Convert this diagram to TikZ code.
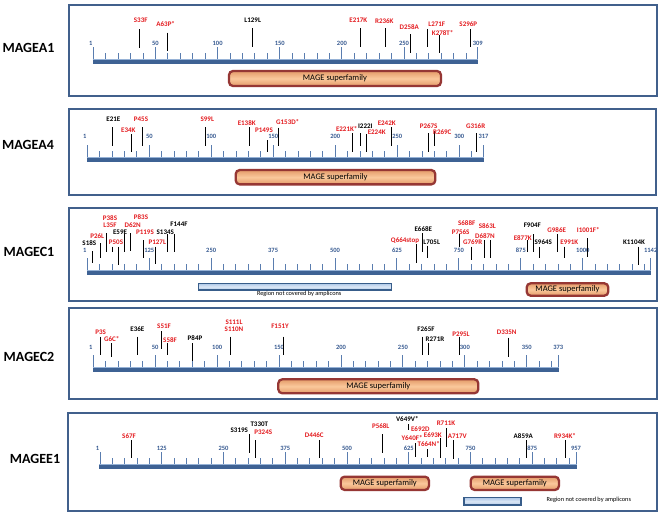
\documentclass[tikz,border=0pt]{standalone}
\usepackage{fontspec}
\setmainfont{Carlito}
\definecolor{mred}{RGB}{228,28,32}
\definecolor{frameblue}{RGB}{65,96,140}
\definecolor{tickblue}{RGB}{90,125,175}
\definecolor{numblue}{RGB}{55,90,145}
\definecolor{barblue}{RGB}{62,98,148}
\definecolor{barlight}{RGB}{150,178,214}
\definecolor{mageborder}{RGB}{150,55,52}
\definecolor{magefill}{RGB}{250,200,155}
\definecolor{magedark}{RGB}{228,155,105}
\definecolor{regfill}{RGB}{175,200,232}
\definecolor{regborder}{RGB}{56,93,138}
\tikzset{
 panel/.style={draw=frameblue, line width=2.5pt, fill=white},
 title/.style={font=\fontsize{14}{14}\selectfont\bfseries, text=black, inner sep=0pt},
 mlab/.style={font=\fontsize{7}{7}\selectfont\bfseries, inner sep=0pt},
 mline/.style={line width=0.95pt, draw=black},
 num/.style={font=\fontsize{6.5}{6.5}\selectfont\bfseries, text=numblue, inner sep=0pt},
 tick/.style={draw=tickblue, line width=1pt},
 magebox/.style={draw=mageborder, line width=2.3pt, rounded corners=4pt, top color=magedark, bottom color=magedark, middle color=magefill, font=\fontsize{8.5}{8.5}\selectfont, text=black, inner sep=0pt},
 regbox/.style={draw=regborder, line width=1.5pt, top color=regfill, bottom color=regfill, middle color=regfill!45!white, inner sep=0pt},
 regtext/.style={font=\fontsize{6.3}{6.3}\selectfont, text=black, inner sep=0pt},
}
\newcommand\myaxis[9]{%
 \fill[barblue] ({#2-0.6},#4) rectangle ({#8+0.6},{#4+5});
 \draw[barlight,line width=0.8pt] ({#2-0.6},{#4+0.4}) -- ({#8+0.6},{#4+0.4});
 \foreach \v in {#5} \draw[tick] ({#2+\v*#3},#4) -- ++(0,-5.7);
 \foreach \v in {#6} {\draw[tick] ({#2+\v*#3},#4) -- ++(0,-12.3); \node[num] (#1n\v) at ({#2+\v*#3},#7) {\v};}
 \draw[tick] (#2,#4) -- ++(0,-12.3); \node[num] (#1n1) at ({#2-2.6},#7) {1};
 \draw[tick] (#8,#4) -- ++(0,-12.3); \node[num] (#1nend) at (#8,#7) {#9};
}
\newcommand\mut[8]{\draw[mline] (#6,#7) -- (#6,#8); \node[mlab,text=#2] (#1) at (#3,#4) {#5};}
\newcommand\mlabel[5]{\node[mlab,text=#2] (#1) at (#3,#4) {#5};}
\newcommand\mstem[3]{\draw[mline] (#1,#2) -- (#1,#3);}
\begin{document}
\begin{tikzpicture}[x=1pt,y=-1pt]
\useasboundingbox[fill=white] (0,0) rectangle (661,515);
% ---------------- MAGEA1
\draw[panel] (69,5) rectangle (657,96);
\node[title] (t1) at (28.5,47.5) {MAGEA1};
\myaxis{a}{93.3}{1.243}{59}{10,20,...,300}{50,100,150,200,250}{43.3}{477.7}{309}
\node[magebox, minimum width=212pt, minimum height=15pt] (m1) at (335,78.5) {MAGE superfamily};
\mut{s33f}{mred}{140.7}{20.7}{S33F}{139}{29}{47.7}
\mut{a63p}{mred}{165.7}{24.3}{A63P*}{167.3}{32.7}{51}
\mut{l129l}{black}{252.7}{20}{L129L}{252.7}{28.3}{47.3}
\mut{e217k}{mred}{358.3}{20.7}{E217K}{360}{28.3}{47.3}
\mut{r236k}{mred}{384.3}{20.7}{R236K}{385}{28.3}{47.3}
\mut{d258a}{mred}{409.3}{27.3}{D258A}{410}{34.3}{53.3}
\mut{l271f}{mred}{436.7}{24.3}{L271F}{427.7}{29}{47}
\mut{k278t}{mred}{442.7}{32.7}{K278T*}{439}{35}{52.7}
\mut{s296p}{mred}{468.3}{24.3}{S296P}{470.7}{29}{47.3}
% ---------------- MAGEA4
\draw[panel] (69,109) rectangle (656,195);
\node[title] (t2) at (28,145.3) {MAGEA4};
\myaxis{b}{87.3}{1.24}{157}{10,20,...,310}{50,100,150,200,250,300}{136}{483.5}{317}
\node[magebox, minimum width=199.6pt, minimum height=14.3pt] (m2) at (335.5,177.2) {MAGE superfamily};
\mut{e21e}{black}{113.3}{119.3}{E21E}{112.3}{127.3}{145.7}
\mut{e34k}{mred}{128.3}{130}{E34K}{131}{134}{152.3}
\mut{p45s}{mred}{141}{119.3}{P45S}{142.3}{127.3}{145.7}
\mut{s99l}{mred}{207.3}{119.3}{S99L}{205.7}{127.3}{145.7}
\mut{e138k}{mred}{246.7}{123.3}{E138K}{249}{127.3}{145.7}
\mut{p149s}{mred}{264}{130}{P149S}{267.3}{140}{151.7}
\mut{g153d}{mred}{287.7}{122.3}{G153D*}{278.3}{127.7}{145.7}
\mut{e221k}{mred}{346.7}{129.3}{E221K*}{352.7}{133.3}{151.7}
\mut{i222i}{black}{365.3}{125.7}{I222I}{360}{133.3}{145.7}
\mut{e224k}{mred}{376.7}{132.3}{E224K}{366}{134.3}{151.7}
\mut{e242k}{mred}{386.7}{123.3}{E242K}{391}{127.3}{145.7}
\mut{p267s}{mred}{428.7}{125.7}{P267S}{428}{133.3}{151.7}
\mut{r269c}{mred}{442.3}{132.3}{R269C}{434}{131}{145.7}
\mut{g316r}{mred}{475.7}{125.7}{G316R}{476.7}{133.3}{151.7}
% ---------------- MAGEC1
\draw[panel] (69,208) rectangle (657,301);
\node[title] (t3) at (29,252) {MAGEC1};
\myaxis{c}{87.3}{0.4955}{270}{25,50,...,1125}{125,250,375,500,625,750,875,1000}{250.7}{650.7}{1142}
\node[regbox, minimum width=193.4pt, minimum height=6.7pt] (r3) at (295,286.7) {};
\node[regtext] (r3t) at (299.2,293.6) {Region not covered by amplicons};
\node[magebox, minimum width=81.6pt, minimum height=12.4pt] (m3) at (567.5,289.5) {MAGE superfamily};
\mut{s18s}{black}{89.3}{243.3}{S18S}{92.7}{251}{263.3}
\mut{p26l}{mred}{97.3}{236}{P26L}{100}{243.3}{258.3}
\mlabel{p38s}{mred}{110}{217.7}{P38S}
\mut{l35f}{mred}{110}{225.7}{L35F}{106}{233.3}{252.3}
\mstem{112.7}{246.7}{252.3}
\mut{e59e}{black}{120}{232.3}{E59E}{124}{234.3}{251.7}
\mut{p50s}{mred}{116}{242.3}{P50S}{118.3}{246.7}{265}
\mlabel{p83s}{mred}{141}{216.7}{P83S}
\mut{d62n}{mred}{132.7}{225}{D62N}{130.7}{233.3}{251}
\mut{p119s}{mred}{145}{232.3}{P119S}{143.3}{240}{258.3}
\mut{p127l}{mred}{157.3}{241.7}{P127L}{155.7}{246.7}{264.3}
\mut{s134s}{black}{165.3}{232.3}{S134S}{167.7}{234.3}{252.3}
\mut{f144f}{black}{179}{224.3}{F144F}{174.3}{234.3}{252.3}
\mut{q664}{mred}{405}{241}{Q664stop}{416}{244.3}{263.3}
\mut{e668e}{black}{423.3}{229}{E668E}{422}{233.3}{252.3}
\mut{l705l}{black}{431.7}{242.3}{L705L}{427.7}{245.7}{258.3}
\mlabel{s688f}{mred}{466.7}{223.3}{S688F}
\mut{p756s}{mred}{460.7}{232.3}{P756S}{459}{234.3}{246.7}
\mlabel{s863l}{mred}{487.3}{225.7}{S863L}
\mut{d687n}{mred}{485}{236}{D687N}{484}{240}{258.3}
\mstem{490}{240}{258.3}
\mut{g769r}{mred}{472.7}{241.7}{G769R}{471.7}{246.7}{260}
\mut{f904f}{black}{532.3}{225.7}{F904F}{533.3}{234.3}{252.3}
\mut{e877k}{mred}{522.7}{238.3}{E877K}{527.3}{240}{252.3}
\mut{s964s}{black}{543.3}{242.3}{S964S}{539.3}{246.7}{258.3}
\mut{g986e}{mred}{556.7}{230}{G986E}{557.7}{234.3}{252.3}
\mut{e991k}{mred}{569.3}{242.3}{E991K}{564.3}{246.7}{258.3}
\mut{i1001f}{mred}{588.3}{230}{I1001F*}{587.7}{238.3}{257.3}
\mut{k1104k}{black}{634}{242.3}{K1104K}{638.3}{246.7}{265}
% ---------------- MAGEC2
\draw[panel] (69,308) rectangle (657,399);
\node[title] (t4) at (29,357) {MAGEC2};
\myaxis{d}{93.3}{1.2385}{367}{10,20,...,370}{50,100,150,200,250,300,350}{347.7}{558.3}{373}
\node[magebox, minimum width=200pt, minimum height=14pt] (m4) at (378.3,386.3) {MAGE superfamily};
\mut{p3s}{mred}{100.7}{332.7}{P3S}{100.7}{336.7}{355}
\mut{g6c}{mred}{111.7}{339.3}{G6C*}{111.7}{343.3}{356.7}
\mut{e36e}{black}{137.3}{329}{E36E}{137.3}{336.7}{355}
\mut{s51f}{mred}{164}{326.7}{S51F}{161.7}{331}{349}
\mut{s58f}{mred}{170}{340}{S58F}{167.7}{343.3}{355}
\mut{p84p}{black}{195}{338.3}{P84P}{192.7}{343.3}{361}
\mlabel{s111l}{mred}{234}{322.3}{S111L}
\mut{s110n}{mred}{234}{329}{S110N}{230}{336.7}{355}
\mut{f151y}{mred}{280}{326.7}{F151Y}{283.3}{336.7}{355}
\mut{f265f}{black}{426}{329}{F265F}{422}{336.7}{355}
\mut{r271r}{black}{435}{339}{R271R}{428}{343.3}{355}
\mut{p295l}{mred}{461}{334.3}{P295L}{459}{336.7}{355}
\mut{d335n}{mred}{506.7}{332.3}{D335N}{508.3}{337.7}{356.7}
% ---------------- MAGEE1
\draw[panel] (68,413) rectangle (657,511);
\node[title] (t5) at (35,458.7) {MAGEE1};
\myaxis{e}{100}{0.494}{464}{25,50,...,950}{125,250,375,500,625,750,875}{448.3}{576}{957}
\node[magebox, minimum width=88.3pt, minimum height=13.3pt] (m5a) at (384.8,483.3) {MAGE superfamily};
\node[magebox, minimum width=88.3pt, minimum height=13.3pt] (m5b) at (514.8,483.3) {MAGE superfamily};
\node[regbox, minimum width=57pt, minimum height=7.3pt] (r5) at (492.5,501.3) {};
\node[regtext] (r5t) at (588.8,499.5) {Region not covered by amplicons};
\mut{s67f}{mred}{129}{436}{S67F}{131}{440}{458.3}
\mlabel{t330t}{black}{259.3}{424}{T330T}
\mut{s319s}{black}{239.3}{430.7}{S319S}{249}{434}{452.7}
\mut{p324s}{mred}{263.3}{432.7}{P324S}{255}{440}{458.3}
\mut{d446c}{mred}{314.3}{435}{D446C}{319.3}{440}{458.3}
\mut{p568l}{mred}{380.7}{426}{P568L}{382.7}{434}{452.7}
\mut{v649v}{black}{407.3}{419.3}{V649V*}{408.7}{424}{430}
\mlabel{e692d}{mred}{420.3}{428.7}{E692D}
\mut{y640f}{mred}{412}{438.3}{Y640F*}{415}{443.3}{457.3}
\mut{e693k}{mred}{432.8}{435}{E693K}{440.7}{438.3}{458.3}
\mut{t664n}{mred}{428.7}{444.3}{T664N*}{427.3}{449.3}{457.3}
\mut{r711k}{mred}{446}{423.3}{R711K}{446.7}{428.3}{446.7}
\mut{a717v}{mred}{457.3}{436}{A717V}{453.3}{440}{459.3}
\mut{a859a}{black}{523.3}{436}{A859A}{526.7}{440}{458.3}
\mut{r934k}{mred}{565}{436}{R934K*}{565}{440}{458.3}
\end{tikzpicture}
\end{document}
